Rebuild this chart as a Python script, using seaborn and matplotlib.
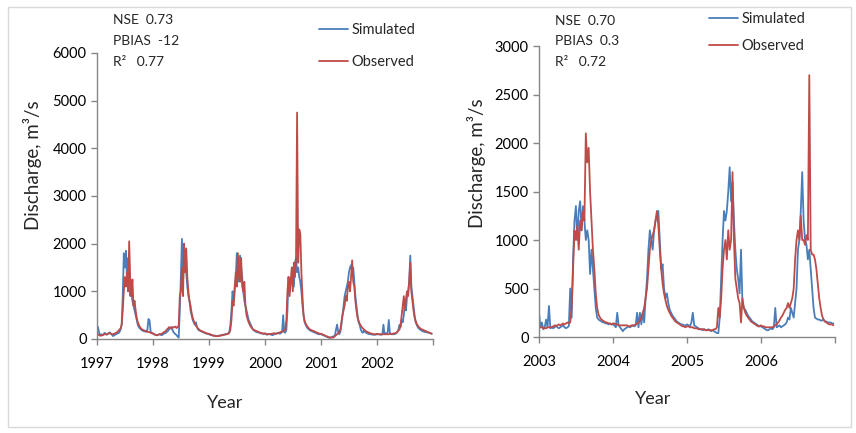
import pandas as pd
import seaborn as sns
import matplotlib.pyplot as plt
from matplotlib.patches import Rectangle

# weekly discharge (m3/s), 52 values per year
sim_1997 = [150, 250, 120, 90, 100, 80, 90, 130, 110, 90, 100, 120, 140,
            110, 90, 60, 80, 90, 100, 120, 120, 150, 200, 300, 900, 1800,
            1500, 1850, 1200, 1700, 1100, 900, 1000, 800, 700, 600, 500, 400, 300,
            250, 220, 200, 180, 170, 160, 160, 150, 200, 420, 380, 150, 130]
obs_1997 = [100, 90, 80, 70, 70, 80, 90, 100, 100, 100, 110, 120, 120,
            110, 100, 100, 110, 120, 130, 150, 170, 200, 220, 300, 600, 1000,
            1300, 1100, 1400, 1000, 2050, 1200, 900, 1250, 700, 800, 600, 450, 350,
            300, 250, 220, 200, 190, 180, 170, 160, 150, 150, 140, 130, 120]
sim_1998 = [110, 100, 90, 80, 80, 90, 100, 90, 80, 90, 110, 120, 130,
            150, 170, 200, 230, 250, 200, 150, 120, 100, 80, 50, 30, 600,
            1300, 2100, 1200, 1700, 1500, 1400, 1100, 900, 800, 600, 500, 400, 350,
            300, 350, 250, 200, 180, 170, 160, 150, 140, 130, 120, 110, 110]
obs_1998 = [120, 100, 90, 80, 80, 90, 100, 100, 110, 120, 140, 150, 170,
            200, 220, 250, 230, 220, 250, 240, 250, 260, 230, 250, 280, 900,
            1000, 1500, 900, 2000, 1400, 1900, 1300, 1000, 800, 700, 550, 450, 380,
            320, 280, 250, 220, 200, 180, 170, 160, 150, 140, 130, 120, 110]
sim_1999 = [100, 90, 80, 80, 70, 70, 70, 60, 60, 70, 70, 80, 80,
            90, 90, 100, 100, 110, 120, 150, 300, 600, 1000, 800, 1100, 1300,
            1800, 1200, 1400, 1750, 1500, 1300, 1000, 800, 700, 600, 500, 400, 350,
            300, 250, 200, 180, 160, 150, 140, 140, 130, 120, 120, 110, 110]
obs_1999 = [110, 100, 90, 80, 70, 70, 60, 60, 60, 60, 70, 70, 80,
            80, 90, 90, 100, 100, 110, 130, 200, 400, 800, 700, 1000, 1400,
            1100, 1800, 1300, 1200, 1700, 1100, 1000, 1200, 700, 500, 420, 350, 300,
            260, 230, 200, 190, 180, 170, 160, 150, 140, 130, 120, 120, 110]
sim_2000 = [110, 100, 90, 100, 110, 100, 90, 80, 90, 100, 110, 120, 130,
            120, 110, 130, 150, 500, 150, 130, 200, 600, 1300, 1000, 1200, 1300,
            1500, 1100, 1600, 1700, 1400, 1500, 1300, 1200, 1000, 700, 500, 350, 300,
            250, 220, 200, 180, 170, 160, 150, 140, 130, 120, 110, 100, 100]
obs_2000 = [120, 110, 100, 100, 100, 100, 110, 110, 120, 120, 110, 110, 120,
            130, 140, 150, 150, 160, 180, 200, 400, 1000, 1300, 900, 1200, 1500,
            1000, 1600, 1300, 1700, 4750, 1600, 2300, 2200, 1400, 900, 500, 380, 320,
            280, 250, 220, 200, 190, 180, 170, 160, 150, 140, 130, 120, 110]
sim_2001 = [100, 90, 80, 70, 60, 50, 40, 30, 30, 30, 40, 50, 60,
            80, 200, 300, 150, 100, 150, 300, 500, 700, 900, 1000, 1100, 1200,
            1400, 1500, 1550, 1400, 1500, 1200, 900, 700, 500, 350, 300, 200, 150,
            130, 180, 150, 130, 120, 110, 100, 100, 100, 90, 90, 90, 90]
obs_2001 = [110, 100, 90, 80, 70, 60, 50, 40, 30, 30, 30, 30, 40,
            60, 80, 100, 120, 150, 200, 350, 500, 600, 700, 900, 800, 1100,
            1200, 1000, 1300, 1650, 1200, 1100, 800, 600, 450, 380, 320, 280, 250,
            220, 200, 180, 160, 150, 140, 130, 120, 110, 110, 100, 100, 100]
sim_2002 = [100, 100, 100, 90, 90, 100, 300, 100, 120, 100, 150, 400, 120,
            100, 100, 100, 100, 110, 120, 150, 200, 300, 250, 400, 350, 500,
            800, 600, 900, 1000, 1200, 1750, 1100, 900, 700, 500, 350, 300, 250,
            220, 200, 180, 170, 160, 150, 150, 140, 140, 130, 130, 120, 110]
obs_2002 = [110, 100, 100, 100, 100, 100, 100, 100, 100, 100, 100, 100, 110,
            110, 110, 110, 120, 120, 130, 150, 180, 200, 300, 500, 700, 900,
            600, 850, 1000, 900, 1200, 1600, 1000, 800, 600, 450, 380, 320, 280,
            250, 230, 210, 200, 190, 180, 170, 160, 150, 140, 130, 120, 110]

sim_2003 = [250, 100, 150, 80, 100, 180, 100, 320, 90, 100, 90, 100, 120,
            100, 90, 100, 110, 120, 100, 90, 100, 110, 500, 200, 800, 1200,
            1350, 1000, 1300, 1400, 1100, 1350, 1200, 1000, 1100, 1000, 650, 900, 700,
            500, 300, 200, 180, 170, 160, 150, 150, 140, 140, 130, 140, 130]
obs_2003 = [100, 100, 100, 90, 90, 90, 100, 100, 100, 100, 110, 120, 110,
            120, 130, 120, 130, 140, 130, 140, 150, 140, 150, 300, 700, 1100,
            1000, 1150, 900, 1200, 1100, 1300, 1200, 2100, 1800, 1950, 1500, 1200, 900,
            700, 450, 300, 230, 200, 180, 170, 160, 150, 150, 140, 140, 130]
sim_2004 = [130, 120, 100, 250, 120, 100, 80, 60, 80, 90, 100, 110, 100,
            110, 120, 110, 120, 250, 100, 250, 130, 250, 150, 400, 600, 900,
            1100, 1000, 900, 1100, 1200, 1250, 1300, 1000, 700, 750, 500, 400, 450,
            350, 280, 250, 220, 200, 180, 160, 150, 140, 130, 130, 120, 120]
obs_2004 = [140, 140, 130, 130, 120, 120, 120, 120, 120, 120, 120, 110, 110,
            120, 120, 120, 130, 140, 150, 170, 200, 250, 300, 400, 500, 700,
            900, 1000, 1050, 1100, 1200, 1300, 1150, 900, 700, 550, 450, 380, 320,
            280, 250, 220, 200, 180, 160, 150, 140, 130, 120, 110, 110, 100]
sim_2005 = [130, 120, 110, 150, 250, 120, 110, 100, 90, 80, 80, 70, 80,
            70, 70, 80, 70, 60, 70, 60, 50, 40, 40, 200, 600, 1000,
            1300, 1200, 1300, 1500, 1750, 1400, 1600, 1200, 900, 700, 600, 450, 900,
            350, 300, 280, 250, 220, 200, 180, 160, 150, 140, 130, 120, 110]
obs_2005 = [110, 110, 100, 100, 100, 90, 90, 90, 80, 80, 80, 80, 80,
            70, 70, 70, 70, 70, 70, 80, 80, 100, 300, 200, 400, 700,
            900, 1000, 800, 1100, 900, 1000, 1700, 1000, 600, 500, 400, 350, 150,
            400, 300, 250, 220, 200, 180, 160, 150, 140, 130, 120, 110, 110]
sim_2006 = [110, 100, 90, 80, 70, 70, 80, 90, 80, 100, 300, 100, 110,
            120, 100, 110, 120, 130, 150, 200, 180, 300, 250, 200, 350, 500,
            900, 1000, 1300, 1700, 1200, 1000, 950, 800, 900, 700, 500, 300, 200,
            190, 180, 180, 170, 170, 180, 160, 160, 150, 150, 150, 140, 140]
obs_2006 = [120, 110, 110, 100, 100, 100, 100, 100, 100, 110, 120, 130, 150,
            170, 200, 220, 250, 280, 300, 350, 300, 350, 400, 500, 800, 1000,
            1100, 1000, 1250, 1000, 1000, 950, 1050, 1000, 2700, 900, 850, 850, 800,
            700, 550, 400, 300, 220, 180, 160, 150, 140, 130, 130, 130, 120]

years_a = [1997, 1998, 1999, 2000, 2001, 2002]
sims_a = [sim_1997, sim_1998, sim_1999, sim_2000, sim_2001, sim_2002]
obss_a = [obs_1997, obs_1998, obs_1999, obs_2000, obs_2001, obs_2002]
years_b = [2003, 2004, 2005, 2006]
sims_b = [sim_2003, sim_2004, sim_2005, sim_2006]
obss_b = [obs_2003, obs_2004, obs_2005, obs_2006]

stats_a = ["NSE  0.73", "PBIAS  -12", "R\u00b2   0.77"]
stats_b = ["NSE  0.70", "PBIAS  0.3", "R\u00b2   0.72"]


def build(years, sims, obss):
    parts = []
    for y, s, o in zip(years, sims, obss):
        d = pd.date_range(f"{y}-01-01", periods=len(s), freq="7D")
        parts.append(pd.DataFrame({"date": d, "q": s, "series": "Simulated"}))
        parts.append(pd.DataFrame({"date": d, "q": o, "series": "Observed"}))
    return pd.concat(parts, ignore_index=True)


sns.set_style("ticks")
plt.rcParams['font.family'] = ['Lato', 'DejaVu Sans']

fig = plt.figure(figsize=(8.56, 4.33), dpi=100)
fig.patches.append(Rectangle((8 / 856, 1 - 427 / 433), 843 / 856, 420 / 433,
                             transform=fig.transFigure, fill=False,
                             edgecolor='#d9d9d9', lw=1))

ax1 = fig.add_axes([0.1133, 0.2171, 0.3925, 0.6605])
ax2 = fig.add_axes([0.6297, 0.2217, 0.3458, 0.6720])

pal = {"Simulated": "#4a7ebb", "Observed": "#be4b48"}

panels = [
    (ax1, build(years_a, sims_a, obss_a), years_a, 6000, 1000,
     (-0.165, 0.608), (0.381, -0.195), stats_a, 113, (20, 41, 62),
     (319 / 856, 1 - 23 / 433), 1.25),
    (ax2, build(years_b, sims_b, obss_b), years_b, 3000, 500,
     (-0.18, 0.598), (0.385, -0.185), stats_b, 555, (21, 41, 62),
     (709 / 856, 1 - 12 / 433), 0.9),
]

for ax, df, years, ymax, ystep, ylab, xlab, stats, sx, sys_, lg_xy, lg_sp in panels:
    sns.lineplot(data=df, x="date", y="q", hue="series",
                 hue_order=["Simulated", "Observed"], palette=pal,
                 estimator=None, lw=1.3, ax=ax)
    handles, labels = ax.get_legend_handles_labels()
    ax.legend(handles, labels, loc="upper left", bbox_to_anchor=lg_xy,
              bbox_transform=fig.transFigure, frameon=False, fontsize=10.5,
              handlelength=2.0, handletextpad=0.25, labelspacing=lg_sp,
              borderpad=0, borderaxespad=0)

    start = pd.Timestamp(f"{years[0]}-01-01")
    end = pd.Timestamp(f"{years[-1] + 1}-01-01")
    ax.set_xlim(start, end)
    ticks = [pd.Timestamp(f"{y}-01-01") for y in years + [years[-1] + 1]]
    ax.set_xticks(ticks)
    ax.set_xticklabels([str(y) for y in years] + [""])
    ax.set_ylim(0, ymax)
    ax.set_yticks(range(0, ymax + 1, ystep))

    ax.set_ylabel("Discharge, m\u00b3/s", fontsize=13.5)
    ax.yaxis.set_label_coords(*ylab)
    ax.set_xlabel("Year", fontsize=13)
    ax.xaxis.set_label_coords(*xlab)

    sns.despine(ax=ax)
    for sp in ["left", "bottom"]:
        ax.spines[sp].set_color("#868686")
        ax.spines[sp].set_linewidth(1)
    ax.tick_params(axis="both", colors="#868686", labelcolor="black",
                   labelsize=10.5, length=4, width=1)
    ax.tick_params(axis="x", pad=9)

    for txt, yy in zip(stats, sys_):
        fig.text(sx / 856, 1 - yy / 433, txt, fontsize=10, va="center")

fig.savefig("out.png", dpi=100)
